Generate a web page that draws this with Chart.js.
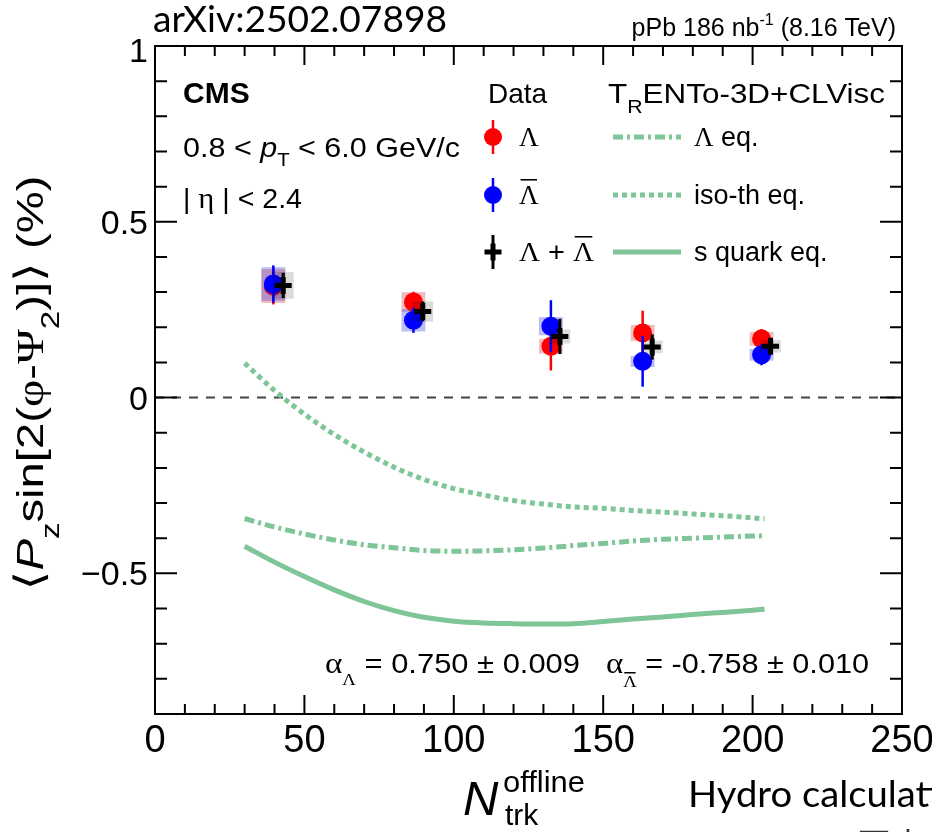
<!DOCTYPE html>
<html>
<head>
<meta charset="utf-8">
<script src="https://cdn.jsdelivr.net/npm/chart.js@4.4.1/dist/chart.umd.min.js"></script>
<style>
  html, body { margin: 0; padding: 0; background: #fff; }
  #wrap { width: 932px; height: 832px; }
</style>
</head>
<body>
<div id="wrap"><canvas id="polChart" width="932" height="832"></canvas></div>
<script>
// multiplicity bins (N_trk^offline); the combined points are drawn slightly shifted
const nLambda = [39.6, 86.5, 132.5, 163.2, 203.0];
const nCombined = [42.9, 89.6, 135.5, 166.4, 206.0];

// <P_z sin[2(phi-Psi_2)]> in %
const lambdaVals = [0.317, 0.272, 0.146, 0.184, 0.167];
const lambdaStat = [0.052, 0.029, 0.069, 0.063, 0.028];
const lambdaSys = [0.048, 0.028, 0.021, 0.023, 0.020];

const antiVals = [0.323, 0.220, 0.203, 0.103, 0.122];
const antiStat = [0.053, 0.036, 0.074, 0.072, 0.030];
const antiSys = [0.048, 0.032, 0.026, 0.016, 0.017];

const combVals = [0.319, 0.245, 0.174, 0.144, 0.146];
const combStat = [0.036, 0.028, 0.050, 0.036, 0.020];
const combSys = [0.038, 0.029, 0.020, 0.018, 0.018];

// TRENTo-3D + CLVisc hydro curves
const modelN = [30, 40, 50, 60, 70, 80, 90, 100, 110, 120, 130, 140, 150, 160, 170, 180, 190, 200, 204];
const lambdaEq = [-0.344, -0.368, -0.388, -0.405, -0.419, -0.427, -0.435, -0.437, -0.436, -0.433, -0.428, -0.421, -0.415, -0.408, -0.403, -0.400, -0.397, -0.394, -0.393];
const isoThEq = [0.098, 0.020, -0.047, -0.105, -0.155, -0.198, -0.233, -0.259, -0.277, -0.293, -0.303, -0.311, -0.315, -0.321, -0.326, -0.331, -0.336, -0.342, -0.345];
const sQuarkEq = [-0.423, -0.468, -0.509, -0.547, -0.580, -0.606, -0.625, -0.636, -0.641, -0.643, -0.644, -0.643, -0.637, -0.630, -0.624, -0.617, -0.611, -0.605, -0.602];

const xTicks = [0, 50, 100, 150, 200, 250];
const yTicks = [1, 0.5, 0, -0.5];
const yTickLabels = ["1", "0.5", "0", "\u22120.5"];

const SANS = '"Liberation Sans", Arial, Helvetica, sans-serif';
const SERIF = '"Liberation Serif", "Times New Roman", serif';
const GREEN = "rgb(126,197,151)";
const DASHDOT = [10, 4, 3, 4];
const DOTTED = [5, 4];

const pts = (xs, ys) => xs.map((x, i) => ({ x: x, y: ys[i] }));

const errorSets = {
  lambda: { xs: nLambda, ys: lambdaVals, stat: lambdaStat, sys: lambdaSys, bar: "#ff0000", box: "rgba(210,40,40,0.3)", hw: 4, lw: 2.5 },
  anti: { xs: nLambda, ys: antiVals, stat: antiStat, sys: antiSys, bar: "#0000ff", box: "rgba(40,40,210,0.3)", hw: 4, lw: 2.5 },
  comb: { xs: nCombined, ys: combVals, stat: combStat, sys: combSys, bar: "#000000", box: "rgba(0,0,0,0.14)", hw: 3.5, lw: 3 }
};

// draw a run of text pieces (sub/superscripts, mixed fonts), optionally squeezed to a width
function drawRich(ctx, parts, x, y, align, width) {
  let total = 0;
  parts.forEach(p => { ctx.font = p.font; p.w = ctx.measureText(p.t).width; total += p.w; });
  const sx = width ? width / total : 1;
  const w = total * sx;
  let cx = align === "right" ? x - w : align === "center" ? x - w / 2 : x;
  ctx.save();
  ctx.textAlign = "left";
  ctx.textBaseline = "alphabetic";
  parts.forEach(p => {
    ctx.font = p.font;
    ctx.fillStyle = p.color || "#000";
    ctx.save();
    ctx.translate(cx, y + (p.dy || 0));
    ctx.scale(sx, 1);
    ctx.fillText(p.t, 0, 0);
    if (p.bar) {
      ctx.fillRect(p.w * 0.08, -p.bar, p.w * 0.84, Math.max(1.5, p.w * 0.08));
    }
    ctx.restore();
    cx += p.w * sx;
  });
  ctx.restore();
}

function hLine(ctx, x1, x2, y, dash) {
  ctx.save();
  ctx.strokeStyle = GREEN;
  ctx.lineWidth = 5;
  ctx.setLineDash(dash);
  ctx.beginPath();
  ctx.moveTo(x1, y);
  ctx.lineTo(x2, y);
  ctx.stroke();
  ctx.restore();
}

function marker(ctx, x, y, color, cross) {
  ctx.save();
  ctx.strokeStyle = color;
  ctx.fillStyle = color;
  ctx.lineWidth = cross ? 3 : 2.5;
  ctx.beginPath();
  ctx.moveTo(x, y - 17);
  ctx.lineTo(x, y + 17);
  ctx.stroke();
  if (cross) {
    ctx.lineWidth = 5;
    ctx.beginPath();
    ctx.moveTo(x - 8.5, y); ctx.lineTo(x + 8.5, y);
    ctx.moveTo(x, y - 8.5); ctx.lineTo(x, y + 8.5);
    ctx.stroke();
  } else {
    ctx.beginPath();
    ctx.arc(x, y, 9, 0, Math.PI * 2);
    ctx.fill();
  }
  ctx.restore();
}

const cmsPlugin = {
  id: "cmsDecor",
  beforeDatasetsDraw(chart) {
    const ctx = chart.ctx, a = chart.chartArea, ys = chart.scales.y;
    const y0 = ys.getPixelForValue(0);
    ctx.save();
    ctx.strokeStyle = "#444";
    ctx.lineWidth = 2;
    ctx.setLineDash([9, 8]);
    ctx.beginPath();
    ctx.moveTo(a.left, y0);
    ctx.lineTo(a.right, y0);
    ctx.stroke();
    ctx.restore();
  },
  beforeDatasetDraw(chart, args) {
    const ds = chart.data.datasets[args.index];
    if (!ds.errKey) return;
    const e = errorSets[ds.errKey];
    const ctx = chart.ctx, xs = chart.scales.x, ys = chart.scales.y;
    ctx.save();
    ctx.fillStyle = e.box;
    e.xs.forEach((n, i) => {
      const l = xs.getPixelForValue(n - e.hw), r = xs.getPixelForValue(n + e.hw);
      const t = ys.getPixelForValue(e.ys[i] + e.sys[i]), b = ys.getPixelForValue(e.ys[i] - e.sys[i]);
      ctx.fillRect(l, t, r - l, b - t);
    });
    ctx.strokeStyle = e.bar;
    ctx.lineWidth = e.lw;
    e.xs.forEach((n, i) => {
      const px = xs.getPixelForValue(n);
      ctx.beginPath();
      ctx.moveTo(px, ys.getPixelForValue(e.ys[i] + e.stat[i]));
      ctx.lineTo(px, ys.getPixelForValue(e.ys[i] - e.stat[i]));
      ctx.stroke();
    });
    ctx.restore();
  },
  afterDatasetsDraw(chart) {
    const ctx = chart.ctx, a = chart.chartArea, xs = chart.scales.x, ys = chart.scales.y;
    ctx.save();
    ctx.strokeStyle = "#000";
    ctx.lineWidth = 2;
    ctx.setLineDash([]);
    ctx.strokeRect(a.left, a.top, a.right - a.left, a.bottom - a.top);

    // inward ticks on all four sides
    ctx.beginPath();
    for (let k = -9; k <= 10; k++) {
      const py = ys.getPixelForValue(k / 10);
      const len = k % 5 === 0 ? 22 : 12;
      ctx.moveTo(a.left, py); ctx.lineTo(a.left + len, py);
      ctx.moveTo(a.right, py); ctx.lineTo(a.right - len, py);
    }
    for (let k = 0; k <= 25; k++) {
      const px = xs.getPixelForValue(k * 10);
      const len = k % 5 === 0 ? 19 : 10;
      ctx.moveTo(px, a.bottom); ctx.lineTo(px, a.bottom - len);
      ctx.moveTo(px, a.top); ctx.lineTo(px, a.top + len);
    }
    ctx.stroke();

    // tick labels
    ctx.fillStyle = "#000";
    ctx.textBaseline = "alphabetic";
    ctx.font = "38px " + SANS;
    ctx.textAlign = "center";
    xTicks.forEach(v => ctx.fillText(String(v), xs.getPixelForValue(v), 752));
    ctx.font = "34px " + SANS;
    ctx.textAlign = "right";
    yTicks.forEach((v, i) => ctx.fillText(yTickLabels[i], 148, ys.getPixelForValue(v) + 12 + (v === 1 ? 4 : 0)));
    ctx.restore();
  },
  afterDraw(chart) {
    const ctx = chart.ctx;
    const f = (s, style) => (style ? style + " " : "") + s + "px " + SANS;
    const g = s => s + "px " + SERIF;

    // header
    drawRich(ctx, [{ t: "arXiv:2502.07898", font: '36px Lato, "Open Sans", sans-serif' }], 153, 32, "left", 294);
    drawRich(ctx, [
      { t: "pPb 186 nb", font: f(25) },
      { t: "-1", font: f(16), dy: -11 },
      { t: " (8.16 TeV)", font: f(25) }
    ], 896, 36, "right");

    // left block
    drawRich(ctx, [{ t: "CMS", font: f(30, "bold") }], 183, 103, "left");
    drawRich(ctx, [
      { t: "0.8 < ", font: f(27) },
      { t: "p", font: f(27, "italic") },
      { t: "T", font: f(18), dy: 9 },
      { t: " < 6.0 GeV/c", font: f(27) }
    ], 183, 157, "left", 277);
    drawRich(ctx, [
      { t: "| ", font: f(27) },
      { t: "\u03b7", font: g(29) },
      { t: " | < 2.4", font: f(27) }
    ], 183, 208, "left", 119);

    // legend headers
    drawRich(ctx, [{ t: "Data", font: f(28) }], 488, 103, "left");
    drawRich(ctx, [
      { t: "T", font: f(28) },
      { t: "R", font: f(19), dy: 10 },
      { t: "ENTo-3D+CLVisc", font: f(28) }
    ], 608, 103, "left", 277);

    // data legend
    const rows = [137, 195, 252];
    marker(ctx, 493, rows[0], "#ff0000", false);
    marker(ctx, 493, rows[1], "#0000ff", false);
    marker(ctx, 493, rows[2], "#000000", true);
    drawRich(ctx, [{ t: "\u039b", font: g(27) }], 519, rows[0] + 9, "left");
    drawRich(ctx, [{ t: "\u039b", font: g(27), bar: 25 }], 519, rows[1] + 9, "left");
    drawRich(ctx, [
      { t: "\u039b", font: g(27) },
      { t: " + ", font: f(27) },
      { t: "\u039b", font: g(27), bar: 25 }
    ], 519, rows[2] + 9, "left", 75);

    // model legend
    hLine(ctx, 613, 681, rows[0], DASHDOT);
    hLine(ctx, 613, 681, rows[1], DOTTED);
    hLine(ctx, 613, 681, rows[2], []);
    drawRich(ctx, [{ t: "\u039b", font: g(27) }, { t: " eq.", font: f(27) }], 694, rows[0] + 9, "left");
    drawRich(ctx, [{ t: "iso-th eq.", font: f(27) }], 694, rows[1] + 9, "left");
    drawRich(ctx, [{ t: "s quark eq.", font: f(27) }], 694, rows[2] + 9, "left");

    // decay parameters
    drawRich(ctx, [
      { t: "\u03b1", font: g(30) },
      { t: "\u039b", font: g(17), dy: 12 },
      { t: " = 0.750 \u00b1 0.009", font: f(28) }
    ], 325, 673, "left", 255);
    drawRich(ctx, [
      { t: "\u03b1", font: g(30) },
      { t: "\u039b", font: g(17), dy: 14, bar: 15 },
      { t: " = -0.758 \u00b1 0.010", font: f(28) }
    ], 606, 673, "left", 263);

    // axis titles
    drawRich(ctx, [
      { t: "N", font: f(49, "italic") }
    ], 463, 815, "left");
    drawRich(ctx, [{ t: "offline", font: f(30) }], 503, 792, "left", 82);
    drawRich(ctx, [{ t: "trk", font: f(30) }], 505, 825, "left");

    ctx.save();
    ctx.translate(43, 383);
    ctx.rotate(-Math.PI / 2);
    drawRich(ctx, [
      { t: "\u27e8", font: '40px "DejaVu Sans"' },
      { t: "P", font: f(37, "italic") },
      { t: "z", font: f(26), dy: 16 },
      { t: "sin[2(", font: f(37) },
      { t: "\u03c6", font: g(37) },
      { t: "-", font: f(37) },
      { t: "\u03a8", font: g(37) },
      { t: "2", font: f(26), dy: 16 },
      { t: ")]", font: f(37) },
      { t: "\u27e9", font: '40px "DejaVu Sans"' },
      { t: " (%)", font: f(37) }
    ], 0, 0, "center", 415);
    ctx.restore();

    // caption fragments below the plot
    drawRich(ctx, [{ t: "Hydro calculation", font: '36px Lato, "Open Sans", sans-serif' }], 688, 807, "left", 294);
    drawRich(ctx, [{ t: "\u56fe\u8868", font: '34px "Noto Sans CJK SC"', color: "#333" }], 857, 858, "left");
  }
};

new Chart(document.getElementById("polChart"), {
  type: "scatter",
  data: {
    datasets: [
      {
        label: "\u039b + anti-\u039b",
        data: pts(nCombined, combVals),
        pointStyle: "cross",
        pointRadius: 8.5,
        borderWidth: 5,
        borderColor: "#000",
        backgroundColor: "#000",
        errKey: "comb",
        order: 1
      },
      {
        label: "anti-\u039b",
        data: pts(nLambda, antiVals),
        pointStyle: "circle",
        pointRadius: 9.5,
        borderWidth: 0,
        backgroundColor: "#0000ff",
        borderColor: "#0000ff",
        errKey: "anti",
        order: 2
      },
      {
        label: "\u039b",
        data: pts(nLambda, lambdaVals),
        pointStyle: "circle",
        pointRadius: 9.5,
        borderWidth: 0,
        backgroundColor: "#ff0000",
        borderColor: "#ff0000",
        errKey: "lambda",
        order: 3
      },
      {
        label: "\u039b eq.",
        data: pts(modelN, lambdaEq),
        showLine: true,
        borderColor: GREEN,
        borderWidth: 5,
        borderDash: DASHDOT,
        pointRadius: 0,
        cubicInterpolationMode: "monotone",
        order: 4
      },
      {
        label: "iso-th eq.",
        data: pts(modelN, isoThEq),
        showLine: true,
        borderColor: GREEN,
        borderWidth: 5,
        borderDash: DOTTED,
        pointRadius: 0,
        cubicInterpolationMode: "monotone",
        order: 5
      },
      {
        label: "s quark eq.",
        data: pts(modelN, sQuarkEq),
        showLine: true,
        borderColor: GREEN,
        borderWidth: 5,
        pointRadius: 0,
        cubicInterpolationMode: "monotone",
        order: 6
      }
    ]
  },
  options: {
    responsive: false,
    animation: false,
    layout: { padding: { left: 155, top: 46, right: 30, bottom: 118 } },
    scales: {
      x: { type: "linear", min: 0, max: 250, display: false },
      y: { type: "linear", min: -0.9, max: 1, display: false }
    },
    plugins: { legend: { display: false }, tooltip: { enabled: false } }
  },
  plugins: [cmsPlugin]
});
</script>
</body>
</html>
